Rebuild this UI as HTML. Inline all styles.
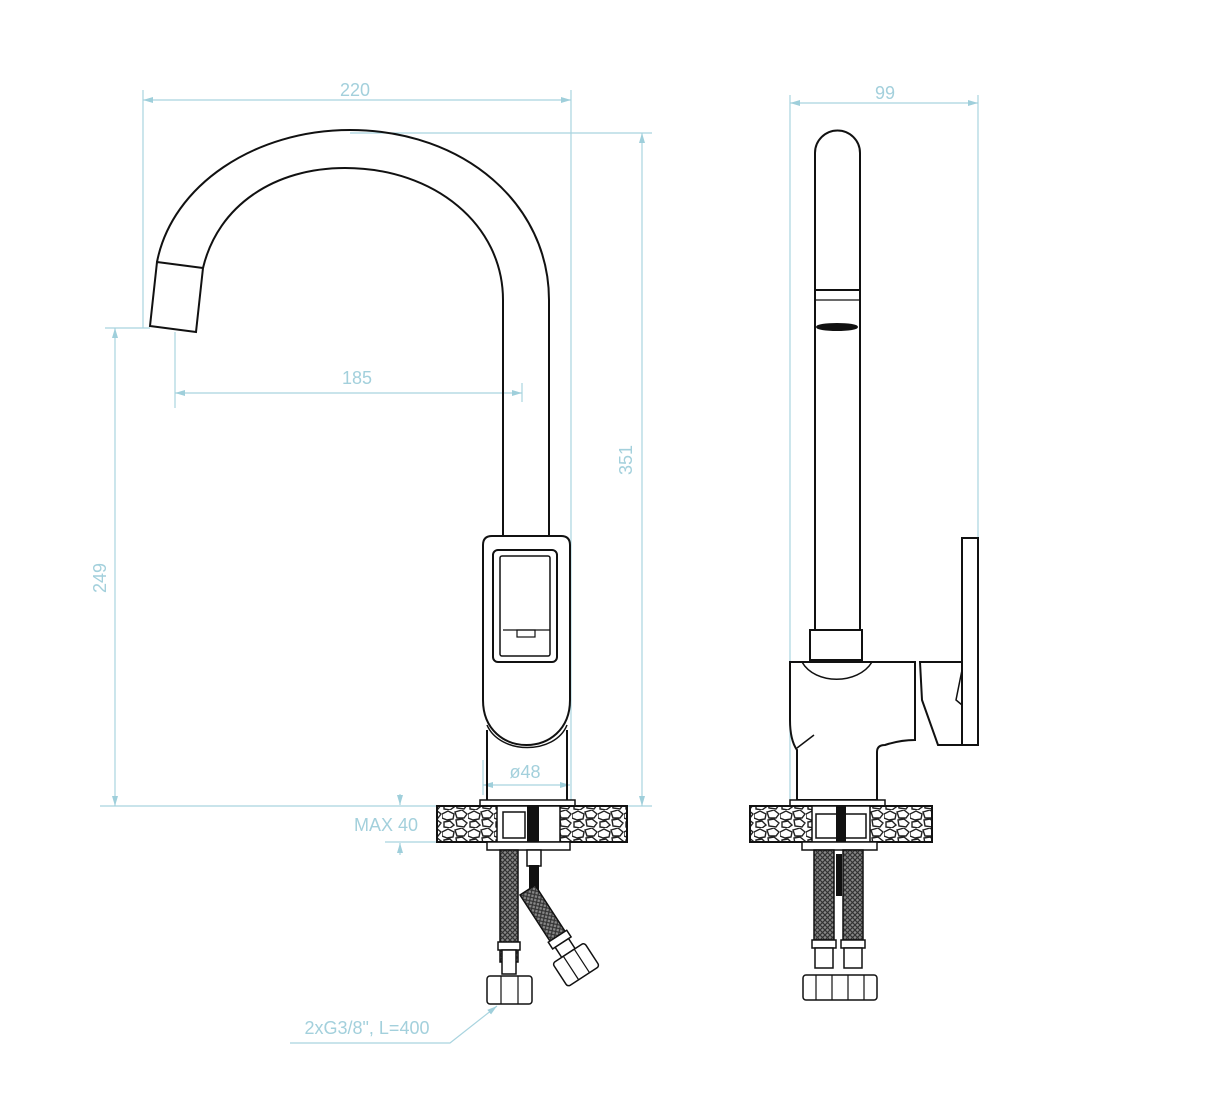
<!DOCTYPE html>
<html><head><meta charset="utf-8"><style>
html,body{margin:0;padding:0;background:#fff;}
svg{display:block;}
text{font-family:"Liberation Sans",sans-serif;fill:#a3d0dc;font-size:18px;}
</style></head><body>
<svg width="1210" height="1114" viewBox="0 0 1210 1114" xmlns="http://www.w3.org/2000/svg">
<defs>
<pattern id="stone" width="26" height="18" patternUnits="userSpaceOnUse">
<rect width="26" height="18" fill="#fff"/>
<path d="M0 4 L6 1 L12 4 L11 9 L5 10 L0 8 Z M13 2 L20 0 L25 4 L22 8 L15 8 Z M2 12 L8 11 L12 15 L8 18 L2 17 Z M14 10 L20 9 L25 13 L22 17 L15 16 Z" fill="none" stroke="#222" stroke-width="1.4"/>
</pattern>
<pattern id="braid" width="5" height="5" patternUnits="userSpaceOnUse">
<rect width="5" height="5" fill="#888"/>
<path d="M0 0 L5 5 M5 0 L0 5" stroke="#333" stroke-width="1.2"/>
</pattern>
<marker id="ar" markerWidth="10" markerHeight="8" refX="10" refY="4" orient="auto-start-reverse" markerUnits="userSpaceOnUse">
<path d="M0 1 L10 4 L0 7 Z" fill="#9fcfdb"/>
</marker>
</defs>

<g stroke="#a9d4df" stroke-width="1.2" fill="none">
<line x1="143" y1="90" x2="143" y2="328"/>
<line x1="571" y1="90" x2="571" y2="800"/>
<line x1="143" y1="100" x2="571" y2="100" marker-start="url(#ar)" marker-end="url(#ar)"/>
<line x1="350" y1="133" x2="652" y2="133"/>
<line x1="100" y1="806" x2="652" y2="806"/>
<line x1="642" y1="133" x2="642" y2="806" marker-start="url(#ar)" marker-end="url(#ar)"/>
<line x1="105" y1="328" x2="150" y2="328"/>
<line x1="115" y1="328" x2="115" y2="806" marker-start="url(#ar)" marker-end="url(#ar)"/>
<line x1="175" y1="332" x2="175" y2="408"/>
<line x1="522" y1="383" x2="522" y2="402"/>
<line x1="175" y1="393" x2="522" y2="393" marker-start="url(#ar)" marker-end="url(#ar)"/>
<line x1="790" y1="95" x2="790" y2="800"/>
<line x1="978" y1="95" x2="978" y2="540"/>
<line x1="790" y1="103" x2="978" y2="103" marker-start="url(#ar)" marker-end="url(#ar)"/>
<line x1="483" y1="760" x2="483" y2="795"/>
<line x1="483" y1="785" x2="570" y2="785" marker-start="url(#ar)" marker-end="url(#ar)"/>
<line x1="385" y1="842" x2="440" y2="842"/>
<line x1="400" y1="794" x2="400" y2="805" marker-end="url(#ar)"/>
<line x1="400" y1="855" x2="400" y2="843" marker-end="url(#ar)"/>
<polyline points="290,1043 450,1043 497,1006" marker-end="url(#ar)"/>
</g>
<text x="355" y="96" text-anchor="middle">220</text>
<text x="885" y="99" text-anchor="middle">99</text>
<text x="357" y="384" text-anchor="middle">185</text>
<text x="525" y="778" text-anchor="middle">ø48</text>
<text x="386" y="831" text-anchor="middle">MAX 40</text>
<text x="367" y="1034" text-anchor="middle">2xG3/8", L=400</text>
<text transform="translate(632,460) rotate(-90)" text-anchor="middle">351</text>
<text transform="translate(106,578) rotate(-90)" text-anchor="middle">249</text>

<g stroke="#111" stroke-width="2" fill="none">
<path d="M157,262 C172,185 255,130 350,130 C465,130 549,205 549,300 L549,536"/>
<path d="M203,268 C218,205 275,168 345,168 C435,168 503,225 503,300 L503,536"/>
<path d="M157,262 L203,268 L196,332 L150,326 Z" fill="#fff"/>
<path d="M483,545 Q483,536 492,536 L561,536 Q570,536 570,545 L570,700 C570,760 483,760 483,700 Z" fill="#fff"/>
<path d="M487,725 C500,755 555,755 567,725" stroke-width="1.5"/>
<line x1="487" y1="730" x2="487" y2="800"/><line x1="567" y1="730" x2="567" y2="800"/>
<rect x="493" y="550" width="64" height="112" rx="5"/>
<rect x="500" y="556" width="50" height="100" rx="2" stroke-width="1.5"/>
<line x1="503" y1="630" x2="550" y2="630" stroke-width="1.2"/>
<rect x="517" y="630" width="18" height="7" stroke-width="1.2"/>
<rect x="480" y="800" width="95" height="6" fill="#fff" stroke-width="1.5"/>
<rect x="437" y="806" width="190" height="36" fill="url(#stone)"/>
<rect x="497" y="806" width="63" height="36" fill="#fff" stroke-width="1.5"/>
<rect x="503" y="812" width="22" height="26" stroke-width="1.5"/>
<rect x="528" y="806" width="10" height="36" fill="#111"/>
<rect x="487" y="842" width="83" height="8" fill="#fff" stroke-width="1.5"/>
<rect x="500" y="850" width="18" height="112" fill="url(#braid)" stroke-width="1.5"/>
<rect x="527" y="850" width="14" height="16" fill="#fff" stroke-width="1.5"/>
<rect x="530" y="866" width="8" height="25" fill="#111"/>
<g transform="translate(520,895) rotate(-33)">
<rect x="0" y="0" width="18" height="55" fill="url(#braid)" stroke-width="1.5"/>
<rect x="-2" y="55" width="22" height="8" fill="#fff" stroke-width="1.5"/>
<rect x="1" y="63" width="16" height="12" fill="#fff" stroke-width="1.5"/>
<rect x="-10" y="75" width="38" height="28" rx="3" fill="#fff" stroke-width="1.5"/>
<line x1="3" y1="75" x2="3" y2="103" stroke-width="1.2"/><line x1="16" y1="75" x2="16" y2="103" stroke-width="1.2"/>
</g>
<rect x="498" y="942" width="22" height="8" fill="#fff" stroke-width="1.5"/>
<rect x="502" y="950" width="14" height="24" fill="#fff" stroke-width="1.5"/>
<rect x="487" y="976" width="45" height="28" rx="3" fill="#fff" stroke-width="1.5"/>
<line x1="501" y1="976" x2="501" y2="1004" stroke-width="1.2"/><line x1="518" y1="976" x2="518" y2="1004" stroke-width="1.2"/>
</g>

<g stroke="#111" stroke-width="2" fill="none">
<path d="M815,630 L815,153 A22.5,22.5 0 0 1 860,153 L860,630"/>
<line x1="815" y1="290" x2="860" y2="290"/><line x1="815" y1="300" x2="860" y2="300" stroke-width="1.2"/>
<ellipse cx="837" cy="327" rx="20" ry="3" fill="#111"/>
<path d="M790,662 L915,662 L915,740 Q900,740 885,745 Q877,745 877,752 L877,800 L797,800 L797,750 Q790,740 790,720 Z" fill="#fff"/>
<rect x="810" y="630" width="52" height="30" fill="#fff"/>
<path d="M802,662 C815,685 858,685 872,662" stroke-width="1.5"/>
<line x1="797" y1="748" x2="814" y2="735" stroke-width="1.5"/>
<path d="M920,662 L962,662 L962,745 L938,745 L922,700 Z" fill="#fff"/>
<rect x="962" y="538" width="16" height="207" fill="#fff"/>
<path d="M962,670 L956,700 L962,705" stroke-width="1.5"/>
<rect x="790" y="800" width="95" height="6" fill="#fff" stroke-width="1.5"/>
<rect x="750" y="806" width="182" height="36" fill="url(#stone)"/>
<rect x="812" y="806" width="58" height="36" fill="#fff" stroke-width="1.5"/>
<rect x="816" y="814" width="22" height="24" stroke-width="1.5"/><rect x="844" y="814" width="22" height="24" stroke-width="1.5"/>
<rect x="837" y="806" width="8" height="36" fill="#111"/>
<rect x="802" y="842" width="75" height="8" fill="#fff" stroke-width="1.5"/>
<rect x="814" y="850" width="20" height="90" fill="url(#braid)" stroke-width="1.5"/>
<rect x="843" y="850" width="20" height="90" fill="url(#braid)" stroke-width="1.5"/>
<rect x="837" y="855" width="4" height="40" fill="#111"/>
<rect x="812" y="940" width="24" height="8" fill="#fff" stroke-width="1.5"/><rect x="841" y="940" width="24" height="8" fill="#fff" stroke-width="1.5"/>
<rect x="815" y="948" width="18" height="20" fill="#fff" stroke-width="1.5"/><rect x="844" y="948" width="18" height="20" fill="#fff" stroke-width="1.5"/>
<rect x="803" y="975" width="74" height="25" rx="3" fill="#fff" stroke-width="1.5"/>
<line x1="816" y1="975" x2="816" y2="1000" stroke-width="1.2"/><line x1="832" y1="975" x2="832" y2="1000" stroke-width="1.2"/>
<line x1="848" y1="975" x2="848" y2="1000" stroke-width="1.2"/><line x1="864" y1="975" x2="864" y2="1000" stroke-width="1.2"/>
</g>
</svg>
</body></html>
